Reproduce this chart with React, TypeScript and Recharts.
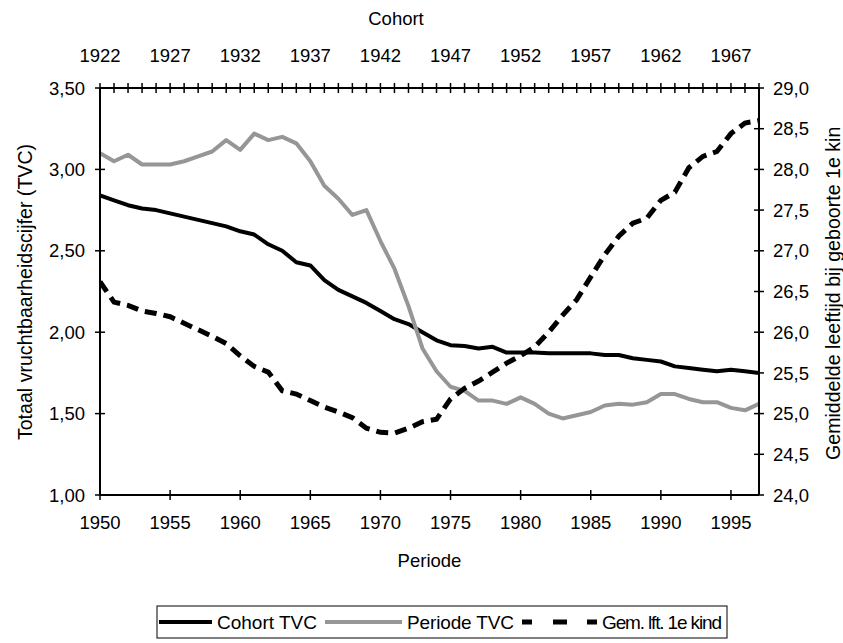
import React from 'react';
import { LineChart, Line, XAxis, YAxis } from 'recharts';

const years = [
  1950, 1951, 1952, 1953, 1954, 1955, 1956, 1957, 1958, 1959,
  1960, 1961, 1962, 1963, 1964, 1965, 1966, 1967, 1968, 1969,
  1970, 1971, 1972, 1973, 1974, 1975, 1976, 1977, 1978, 1979,
  1980, 1981, 1982, 1983, 1984, 1985, 1986, 1987, 1988, 1989,
  1990, 1991, 1992, 1993, 1994, 1995, 1996, 1997,
];

const cohortTVC = [
  2.84, 2.81, 2.78, 2.76, 2.75, 2.73, 2.71, 2.69, 2.67, 2.65,
  2.62, 2.6, 2.54, 2.5, 2.43, 2.41, 2.32, 2.26, 2.22, 2.18,
  2.13, 2.08, 2.05, 2.0, 1.95, 1.92, 1.915, 1.9, 1.91, 1.875,
  1.875, 1.875, 1.87, 1.87, 1.87, 1.87, 1.86, 1.86, 1.84, 1.83,
  1.82, 1.79, 1.78, 1.77, 1.76, 1.77, 1.76, 1.75,
];

const periodeTVC = [
  3.1, 3.05, 3.09, 3.03, 3.03, 3.03, 3.05, 3.08, 3.11, 3.18,
  3.12, 3.22, 3.18, 3.2, 3.16, 3.05, 2.9, 2.82, 2.72, 2.75,
  2.56, 2.39, 2.16, 1.9, 1.76, 1.665, 1.64, 1.58, 1.58, 1.56,
  1.6, 1.56, 1.5, 1.47, 1.49, 1.51, 1.55, 1.56, 1.555, 1.57,
  1.62, 1.62, 1.59, 1.57, 1.57, 1.535, 1.52, 1.56,
];

const gemLeeftijd = [
  26.62, 26.37, 26.33, 26.26, 26.23, 26.19, 26.11, 26.03, 25.95, 25.86,
  25.71, 25.58, 25.51, 25.28, 25.24, 25.16, 25.08, 25.02, 24.95, 24.82,
  24.77, 24.76, 24.82, 24.9, 24.93, 25.18, 25.31, 25.4, 25.51, 25.62,
  25.71, 25.82, 26.0, 26.21, 26.4, 26.68, 26.95, 27.18, 27.34, 27.4,
  27.62, 27.72, 28.02, 28.16, 28.22, 28.44, 28.57, 28.6,
];

const periodeTicks = [1950, 1955, 1960, 1965, 1970, 1975, 1980, 1985, 1990, 1995];
const leftTicks = [1, 1.5, 2, 2.5, 3, 3.5];
const rightTicks = [24, 24.5, 25, 25.5, 26, 26.5, 27, 27.5, 28, 28.5, 29];
const cohortOffset = 28;

const data = years.map((year, i) => ({
  year,
  cohort: cohortTVC[i],
  periode: periodeTVC[i],
  gem: gemLeeftijd[i],
}));

const FONT = '"Liberation Sans", Arial, Helvetica, sans-serif';
const FS = 18.5;
const FS_TITLE_V = 19.6;
const FS_LEGEND = 19;
const GRAY = '#969696';

function BottomTick(props: any) {
  const { x, y, payload } = props;
  return (
    <g>
      <line x1={x} x2={x} y1={y - 5} y2={y + 5} stroke="#000" strokeWidth={1.5} />
      <text x={x} y={y + 33.5} textAnchor="middle" fontFamily={FONT} fontSize={FS} fill="#000">
        {payload.value}
      </text>
    </g>
  );
}

function TopTick(props: any) {
  const { x, y, payload } = props;
  const v = payload.value;
  const showLabel = (v - 1950) % 5 === 0 && v <= 1995;
  return (
    <g>
      <line x1={x} x2={x} y1={y - 5} y2={y + 5} stroke="#000" strokeWidth={1.5} />
      {showLabel && (
        <text x={x} y={y - 26} textAnchor="middle" fontFamily={FONT} fontSize={FS} fill="#000">
          {v - cohortOffset}
        </text>
      )}
    </g>
  );
}

function LeftTick(props: any) {
  const { x, y, payload } = props;
  return (
    <g>
      <line x1={x - 5} x2={x + 5} y1={y} y2={y} stroke="#000" strokeWidth={1.5} />
      <text x={x - 15} y={y + 6.6} textAnchor="end" fontFamily={FONT} fontSize={FS} fill="#000">
        {Number(payload.value).toFixed(2).replace('.', ',')}
      </text>
    </g>
  );
}

function RightTick(props: any) {
  const { x, y, payload } = props;
  return (
    <g>
      <line x1={x - 5} x2={x + 5} y1={y} y2={y} stroke="#000" strokeWidth={1.5} />
      <text x={x + 14} y={y + 6.6} textAnchor="start" fontFamily={FONT} fontSize={FS} fill="#000">
        {Number(payload.value).toFixed(1).replace('.', ',')}
      </text>
    </g>
  );
}

const allYears = years;

export default function App() {
  return (
    <div style={{ position: 'absolute', left: 0, top: 0, width: 843, height: 643, background: '#fff' }}>
      <div style={{ position: 'absolute', left: 0, top: 0 }}>
        <LineChart width={843} height={643} data={data} margin={{ top: 0, right: 0, bottom: 0, left: 0 }}>
          <XAxis
            xAxisId="bottom"
            dataKey="year"
            type="number"
            domain={[1950, 1997]}
            ticks={periodeTicks}
            interval={0}
            height={148}
            tickSize={0}
            tickMargin={0}
            tickLine={false}
            axisLine={{ stroke: '#000', strokeWidth: 2 }}
            tick={<BottomTick />}
            allowDataOverflow
          />
          <XAxis
            xAxisId="top"
            orientation="top"
            dataKey="year"
            type="number"
            domain={[1950, 1997]}
            ticks={allYears}
            interval={0}
            height={88}
            tickSize={0}
            tickMargin={0}
            tickLine={false}
            axisLine={{ stroke: '#000', strokeWidth: 2 }}
            tick={<TopTick />}
            allowDataOverflow
          />
          <YAxis
            yAxisId="left"
            type="number"
            domain={[1, 3.5]}
            ticks={leftTicks}
            interval={0}
            width={100}
            tickSize={0}
            tickMargin={0}
            tickLine={false}
            axisLine={{ stroke: '#000', strokeWidth: 2 }}
            tick={<LeftTick />}
            allowDataOverflow
          />
          <YAxis
            yAxisId="right"
            orientation="right"
            type="number"
            domain={[24, 29]}
            ticks={rightTicks}
            interval={0}
            width={84}
            tickSize={0}
            tickMargin={0}
            tickLine={false}
            axisLine={{ stroke: '#000', strokeWidth: 2 }}
            tick={<RightTick />}
            allowDataOverflow
          />
          <Line
            xAxisId="top"
            yAxisId="left"
            dataKey="cohort"
            name="Cohort TVC"
            stroke="#000"
            strokeWidth={4}
            dot={false}
            strokeLinejoin="round"
            isAnimationActive={false}
          />
          <Line
            xAxisId="bottom"
            yAxisId="left"
            dataKey="periode"
            name="Periode TVC"
            stroke={GRAY}
            strokeWidth={4}
            dot={false}
            strokeLinejoin="round"
            isAnimationActive={false}
          />
          <Line
            xAxisId="bottom"
            yAxisId="right"
            dataKey="gem"
            name="Gem. lft. 1e kind"
            stroke="#000"
            strokeWidth={5}
            strokeDasharray="12 7"
            dot={false}
            isAnimationActive={false}
          />
        </LineChart>
      </div>
      <svg
        width={843}
        height={643}
        style={{ position: 'absolute', left: 0, top: 0, pointerEvents: 'none' }}
      >
        <defs>
          <clipPath id="rightTitleClip">
            <rect x={780} y={127} width={63} height={400} />
          </clipPath>
        </defs>
        <text x={396} y={24.5} textAnchor="middle" fontFamily={FONT} fontSize={FS} fill="#000">
          Cohort
        </text>
        <text x={429.5} y={566.5} textAnchor="middle" fontFamily={FONT} fontSize={FS} fill="#000">
          Periode
        </text>
        <text
          transform="translate(31.7, 292) rotate(-90)"
          textAnchor="middle"
          fontFamily={FONT}
          fontSize={FS_TITLE_V}
          fill="#000"
        >
          Totaal vruchtbaarheidscijfer (TVC)
        </text>
        <g clipPath="url(#rightTitleClip)">
          <text
            transform="translate(839.5, 460) rotate(-90)"
            textAnchor="start"
            fontFamily={FONT}
            fontSize={FS_TITLE_V}
            fill="#000"
          >
            Gemiddelde leeftijd bij geboorte 1e kind
          </text>
        </g>
        {/* legend */}
        <rect x={157} y={606} width={570} height={32} fill="#fff" stroke="#000" strokeWidth={1} />
        <line x1={159} x2={212} y1={622} y2={622} stroke="#000" strokeWidth={4} />
        <text x={217} y={628.5} fontFamily={FONT} fontSize={FS_LEGEND} fill="#000">
          Cohort TVC
        </text>
        <line x1={325} x2={402} y1={622} y2={622} stroke={GRAY} strokeWidth={4} />
        <text x={407} y={628.5} fontFamily={FONT} fontSize={FS_LEGEND} fill="#000" textLength={107} lengthAdjust="spacing">
          Periode TVC
        </text>
        <line
          x1={522}
          x2={597}
          y1={622}
          y2={622}
          stroke="#000"
          strokeWidth={5}
          strokeDasharray="10 21 14 20 10"
        />
        <text x={602} y={628.5} fontFamily={FONT} fontSize={FS_LEGEND} fill="#000" textLength={120} lengthAdjust="spacing">
          Gem. lft. 1e kind
        </text>
      </svg>
    </div>
  );
}
